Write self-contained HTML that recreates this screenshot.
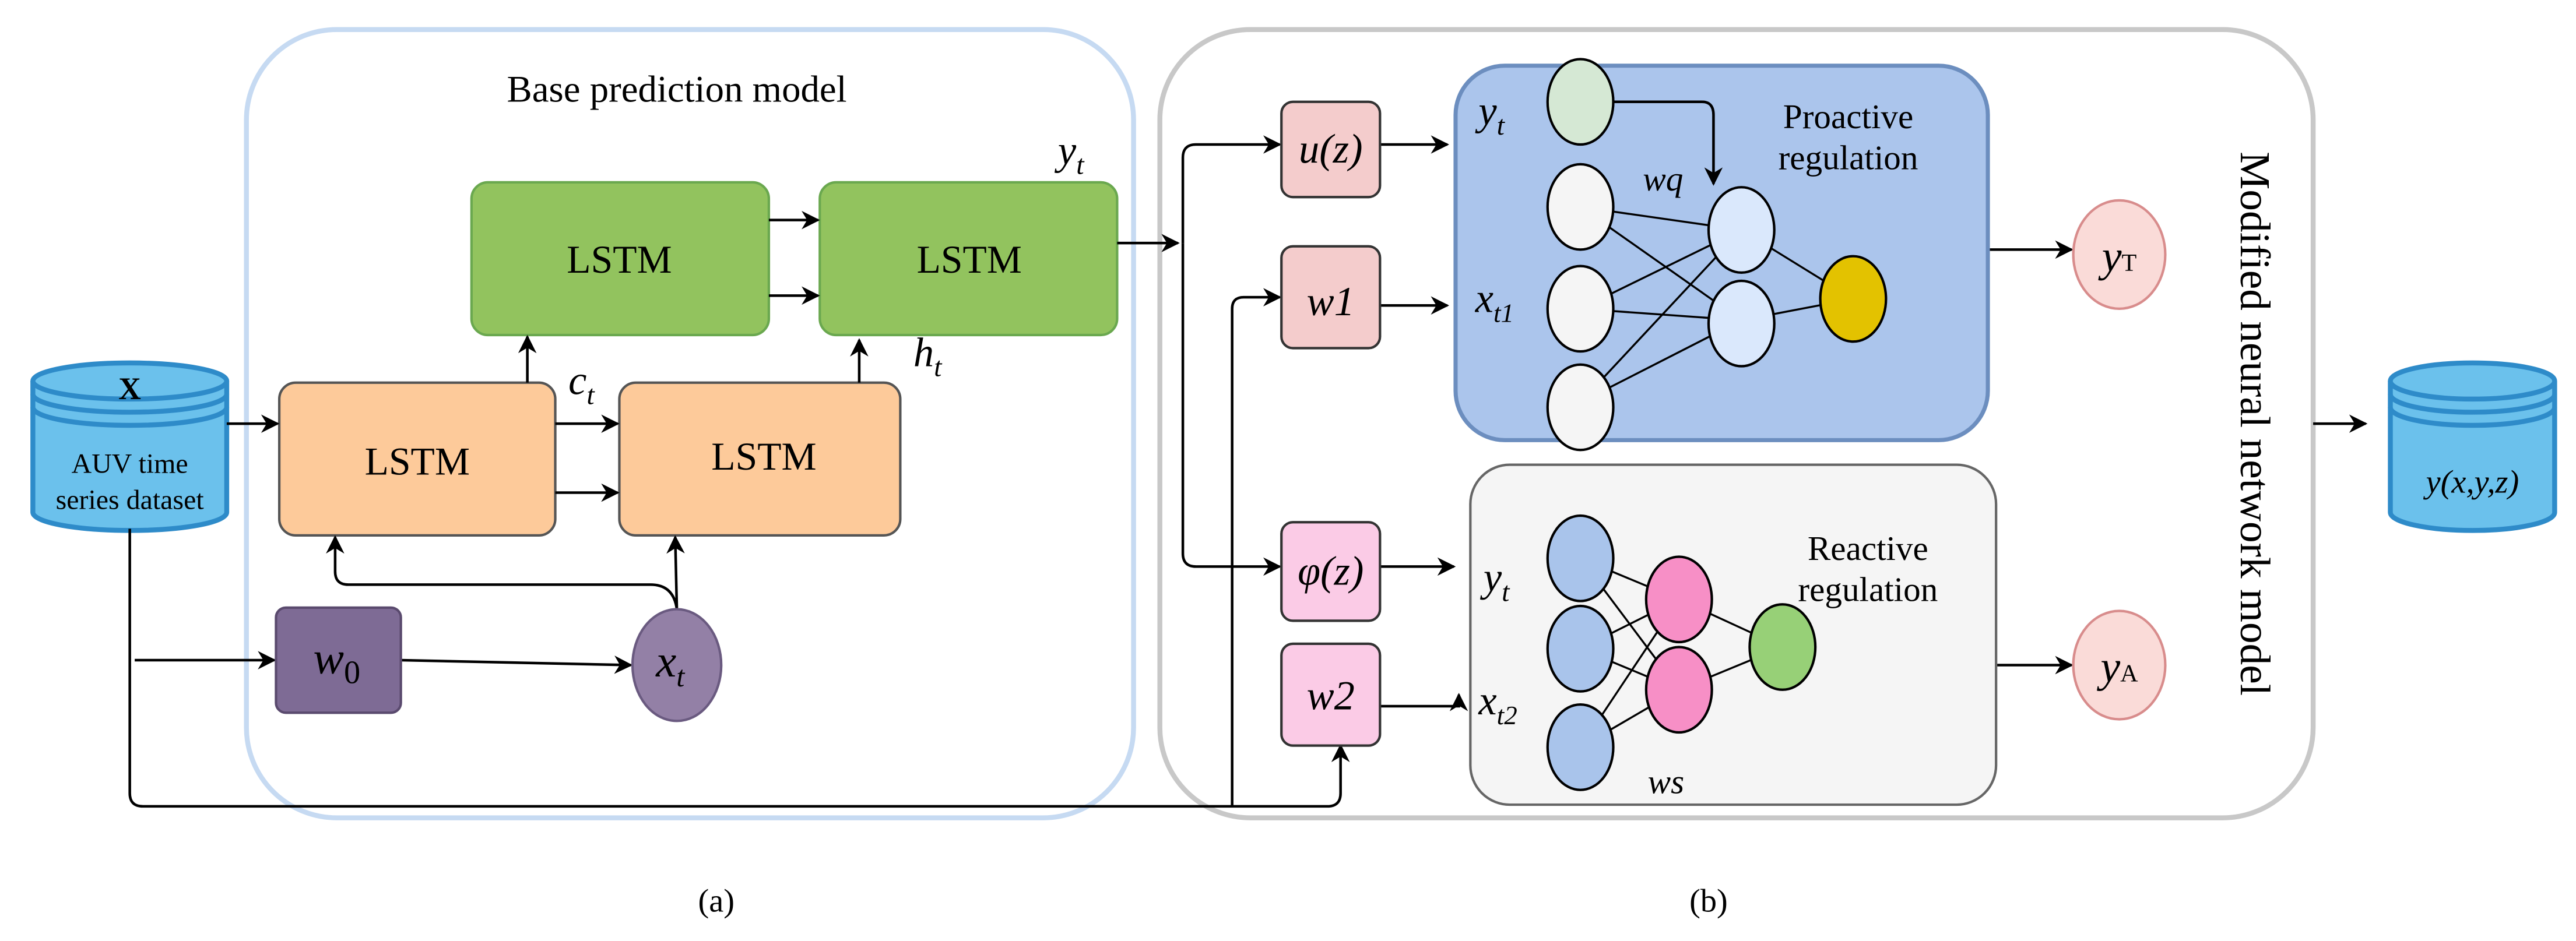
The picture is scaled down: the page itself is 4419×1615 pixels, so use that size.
<!DOCTYPE html>
<html><head><meta charset="utf-8"><style>html,body{margin:0;padding:0;background:#fff}svg{display:block;font-family:"Liberation Serif","Times New Roman",serif}text{font-family:"Liberation Serif","Times New Roman",serif}</style></head>
<body>
<svg width="4419" height="1615" viewBox="0 0 1568 573" preserveAspectRatio="none" xmlns="http://www.w3.org/2000/svg">
<defs>
<marker id="a" viewBox="0 0 10 10" refX="9" refY="5" markerWidth="7" markerHeight="7" orient="auto"><path d="M0,0 L10,5 L0,10 L3,5 z" fill="#000"/></marker>
</defs>
<g fill="none" stroke-width="3">
<rect x="150" y="18" width="540" height="480" rx="55" stroke="#c6daf2"/>
<rect x="706" y="18" width="702" height="480" rx="55" stroke="#c8c8c8"/>
</g>
<text x="412" y="62" font-size="23" text-anchor="middle">Base prediction model</text>
<g stroke="#6aa84f" stroke-width="1.5" fill="#92c35e">
<rect x="287" y="111" width="181" height="93" rx="10"/>
<rect x="499" y="111" width="181" height="93" rx="10"/>
</g>
<g stroke="#555" stroke-width="1.5" fill="#fdca9a">
<rect x="170" y="233" width="168" height="93" rx="10"/>
<rect x="377" y="233" width="171" height="93" rx="10"/>
</g>
<g font-size="24" text-anchor="middle">
<text x="377" y="166">LSTM</text><text x="590" y="166">LSTM</text>
<text x="254" y="289">LSTM</text><text x="465" y="286">LSTM</text>
</g>
<g font-size="25" font-style="italic">
<text x="644" y="100">y<tspan font-size="17" dy="6">t</tspan></text>
<text x="346" y="240">c<tspan font-size="17" dy="6">t</tspan></text>
<text x="556" y="223">h<tspan font-size="17" dy="6">t</tspan></text>
</g>
<g stroke="#2e8bc9" stroke-width="3" fill="#6bc1ec">
<path d="M20,232 L20,312 A59,11 0 0 0 138,312 L138,232"/>
<ellipse cx="79" cy="232" rx="59" ry="11"/>
<path d="M20,240 A59,11 0 0 0 138,240 M20,248 A59,11 0 0 0 138,248" fill="none"/>
</g>
<text x="79" y="243" font-size="19" font-weight="bold" text-anchor="middle">X</text>
<text x="79" y="288" font-size="17" text-anchor="middle">AUV time</text>
<text x="79" y="310" font-size="17" text-anchor="middle">series dataset</text>
<g stroke="#000" stroke-width="1.6" fill="none">
<line x1="138" y1="258" x2="169" y2="258" marker-end="url(#a)"/>
<line x1="338" y1="258" x2="376" y2="258" marker-end="url(#a)"/>
<line x1="338" y1="300" x2="376" y2="300" marker-end="url(#a)"/>
<line x1="468" y1="134" x2="498" y2="134" marker-end="url(#a)"/>
<line x1="468" y1="180" x2="498" y2="180" marker-end="url(#a)"/>
<line x1="321" y1="233" x2="321" y2="205" marker-end="url(#a)"/>
<line x1="523" y1="233" x2="523" y2="207" marker-end="url(#a)"/>
<line x1="82" y1="402" x2="167" y2="402" marker-end="url(#a)"/>
<line x1="244" y1="402" x2="384" y2="405" marker-end="url(#a)"/>
<line x1="412" y1="371" x2="411" y2="327" marker-end="url(#a)"/>
<path d="M412,371 Q410,356 396,356 L212,356 Q204,356 204,348 L204,327" marker-end="url(#a)"/>
<path d="M79,322 L79,483 Q79,491 87,491 L808,491 Q816,491 816,483 L816,454" marker-end="url(#a)"/>
<path d="M750,491 L750,188 Q750,181 757,181 L779,181" marker-end="url(#a)"/>
<line x1="680" y1="148" x2="717" y2="148" marker-end="url(#a)"/>
<path d="M720,148 L720,96 Q720,88 728,88 L779,88" marker-end="url(#a)"/>
<path d="M720,148 L720,337 Q720,345 728,345 L779,345" marker-end="url(#a)"/>
<line x1="840" y1="88" x2="881" y2="88" marker-end="url(#a)"/>
<line x1="840" y1="186" x2="881" y2="186" marker-end="url(#a)"/>
<line x1="840" y1="345" x2="885" y2="345" marker-end="url(#a)"/>
<path d="M840,430 L888,430 L888,423" marker-end="url(#a)"/>
<line x1="1210" y1="152" x2="1261" y2="152" marker-end="url(#a)"/>
<line x1="1215" y1="405" x2="1261" y2="405" marker-end="url(#a)"/>
<line x1="1408" y1="258" x2="1440" y2="258" marker-end="url(#a)"/>
</g>
<rect x="168" y="370" width="76" height="64" rx="6" fill="#7e6b95" stroke="#5a4a6e" stroke-width="1.5"/>
<text x="205" y="410" font-size="28" font-style="italic" text-anchor="middle">w<tspan font-size="20" dy="6" font-style="normal">0</tspan></text>
<ellipse cx="412" cy="405" rx="27" ry="34" fill="#9380a6" stroke="#6a5a80" stroke-width="1.5"/>
<text x="408" y="412" font-size="28" font-style="italic" text-anchor="middle">x<tspan font-size="18" dy="6">t</tspan></text>
<g stroke="#333" stroke-width="1.5">
<rect x="780" y="62" width="60" height="58" rx="7" fill="#f4cccc"/>
<rect x="780" y="150" width="60" height="62" rx="7" fill="#f4cccc"/>
<rect x="780" y="318" width="60" height="60" rx="7" fill="#fbcbe6"/>
<rect x="780" y="392" width="60" height="62" rx="7" fill="#fbcbe6"/>
</g>
<g font-size="25" font-style="italic" text-anchor="middle">
<text x="810" y="99">u(z)</text>
<text x="810" y="192">w1</text>
<text x="810" y="356">φ(z)</text>
<text x="810" y="432">w2</text>
</g>
<rect x="886" y="40" width="324" height="228" rx="30" fill="#abc5ec" stroke="#6c8ebf" stroke-width="2.5"/>
<rect x="895" y="283" width="320" height="207" rx="24" fill="#f5f5f5" stroke="#666" stroke-width="1.5"/>
<g font-size="21" text-anchor="middle">
<text x="1125" y="78">Proactive</text><text x="1125" y="103">regulation</text>
<text x="1137" y="341">Reactive</text><text x="1137" y="366">regulation</text>
</g>
<g stroke="#000" stroke-width="1.2" fill="none">
<path d="M962,126 L1060,140 M962,126 L1060,195 M962,188 L1060,140 M962,188 L1060,195 M962,245 L1060,140 M962,245 L1060,195 M1060,140 L1128,182 M1060,195 L1128,182"/>
<path d="M962,340 L1022,365 M962,340 L1022,420 M962,395 L1022,365 M962,395 L1022,420 M962,455 L1022,365 M962,455 L1022,420 M1022,365 L1085,394 M1022,420 L1085,394"/>
<path d="M982,62 L1036,62 Q1043,62 1043,70 L1043,112" stroke-width="1.6" marker-end="url(#a)"/>
</g>
<g stroke="#000" stroke-width="1.5">
<ellipse cx="962" cy="62" rx="20" ry="26" fill="#d5e8d4"/>
<ellipse cx="962" cy="126" rx="20" ry="26" fill="#f5f5f5"/>
<ellipse cx="962" cy="188" rx="20" ry="26" fill="#f5f5f5"/>
<ellipse cx="962" cy="248" rx="20" ry="26" fill="#f5f5f5"/>
<ellipse cx="1060" cy="140" rx="20" ry="26" fill="#dae8fc"/>
<ellipse cx="1060" cy="197" rx="20" ry="26" fill="#dae8fc"/>
<ellipse cx="1128" cy="182" rx="20" ry="26" fill="#e3c200"/>
<ellipse cx="962" cy="340" rx="20" ry="26" fill="#a9c4eb"/>
<ellipse cx="962" cy="395" rx="20" ry="26" fill="#a9c4eb"/>
<ellipse cx="962" cy="455" rx="20" ry="26" fill="#a9c4eb"/>
<ellipse cx="1022" cy="365" rx="20" ry="26" fill="#f78fc6"/>
<ellipse cx="1022" cy="420" rx="20" ry="26" fill="#f78fc6"/>
<ellipse cx="1085" cy="394" rx="20" ry="26" fill="#97d077"/>
</g>
<g font-size="25" font-style="italic">
<text x="900" y="76">y<tspan font-size="17" dy="6">t</tspan></text>
<text x="898" y="190">x<tspan font-size="16" dy="6">t1</tspan></text>
<text x="1000" y="116" font-size="21">wq</text>
<text x="903" y="360">y<tspan font-size="17" dy="6">t</tspan></text>
<text x="900" y="435">x<tspan font-size="16" dy="6">t2</tspan></text>
<text x="1003" y="483" font-size="21">ws</text>
</g>
<g stroke="#d88c8c" stroke-width="1.5" fill="#fadbd8">
<ellipse cx="1290" cy="155" rx="28" ry="33"/>
<ellipse cx="1290" cy="405" rx="28" ry="33"/>
</g>
<text x="1290" y="165" font-size="27" font-style="italic" text-anchor="middle">y<tspan font-size="15" font-style="normal">T</tspan></text>
<text x="1290" y="415" font-size="27" font-style="italic" text-anchor="middle">y<tspan font-size="15" font-style="normal">A</tspan></text>
<text transform="translate(1364,258) rotate(90)" font-size="26" text-anchor="middle">Modified neural network model</text>
<g stroke="#2e8bc9" stroke-width="3" fill="#6bc1ec">
<path d="M1455,232 L1455,312 A50,11 0 0 0 1555,312 L1555,232"/>
<ellipse cx="1505" cy="232" rx="50" ry="11"/>
<path d="M1455,240 A50,11 0 0 0 1555,240 M1455,248 A50,11 0 0 0 1555,248" fill="none"/>
</g>
<text x="1505" y="300" font-size="20" font-style="italic" text-anchor="middle">y(x,y,z)</text>
<text x="436" y="555" font-size="20" text-anchor="middle">(a)</text>
<text x="1040" y="555" font-size="20" text-anchor="middle">(b)</text>
</svg>
</body></html>
